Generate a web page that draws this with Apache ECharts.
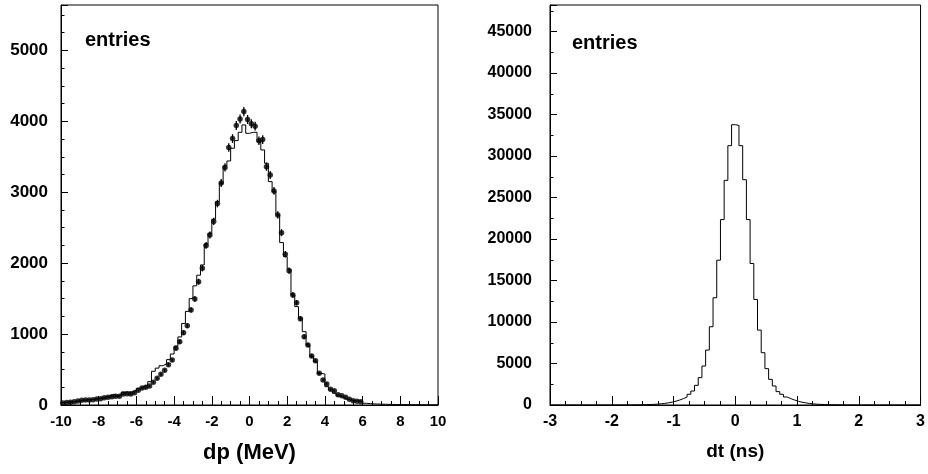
<!DOCTYPE html>
<html><head><meta charset="utf-8">
<script src="https://cdn.jsdelivr.net/npm/echarts@6/dist/echarts.min.js"></script>
<style>html,body{margin:0;padding:0;background:#fff}#c{width:928px;height:474px}</style>
</head><body><div id="c"></div>
<script>
// ---- left panel: dp (MeV), 100 bins of 0.2 from -10 to 10 ----
const dpBinMin = -10, dpBinWidth = 0.2;
const dpAxisMin = -10, dpAxisMax = 10, dpAxisStep = 2;
const dpYMax = 5640, dpYStep = 1000;
const dpHist = [
  35, 40, 45, 50, 58, 64, 70, 75, 82, 90,
  98, 105, 125, 151, 130, 140, 180, 183, 183, 205,
  235, 258, 280, 329, 475, 520, 554, 580, 640, 719,
  830, 960, 1150, 1320, 1500, 1680, 1830, 1975, 2271, 2421,
  2619, 2868, 3127, 3371, 3441, 3620, 3728, 3845, 3949, 3831,
  3845, 3845, 3714, 3596, 3408, 3150, 3009, 2680, 2290, 2092,
  1914, 1551, 1387, 1222, 1034, 846, 681, 611, 447, 437,
  258, 212, 165, 127, 108, 80, 70, 61, 56, 56,
  24, 20, 16, 14, 12, 10, 9, 8, 7, 6,
  6, 5, 5, 4, 4, 3, 3, 3, 2, 2
];
const dpPoints = [
  28, 35, 38, 47, 56, 66, 70, 72, 75, 85,
  89, 103, 108, 118, 122, 125, 155, 160, 155, 174,
  207, 240, 249, 268, 320, 376, 433, 489, 569, 635,
  800, 893, 1020, 1118, 1340, 1495, 1739, 1928, 2250, 2398,
  2588, 2840, 3129, 3350, 3632, 3757, 3940, 4032, 4137, 4025,
  3965, 3932, 3726, 3742, 3361, 3244, 3018, 2680, 2430, 2125,
  1894, 1551, 1443, 1217, 963, 846, 691, 625, 447, 353,
  296, 221, 202, 145, 131, 109, 80, 61, 52, 47,
  null, null, null, null, null, null, null, null, null, null,
  null, null, null, null, null, null, null, null, null, null
];
// ---- right panel: dt (ns), 100 bins of 0.06 from -3 to 3 ----
const dtBinMin = -3, dtBinWidth = 0.06;
const dtAxisMin = -3, dtAxisMax = 3, dtAxisStep = 1;
const dtYMax = 48200, dtYStep = 5000;
const dtHist = [
  0, 0, 0, 0, 0, 0, 0, 0, 0, 1,
  1, 1, 2, 2, 3, 3, 4, 5, 6, 8,
  10, 12, 15, 20, 28, 40, 55, 75, 105, 145,
  195, 260, 350, 460, 600, 770, 965, 1290, 1685, 2370,
  3295, 4695, 6620, 9430, 12920, 17450, 22340, 27070, 31250, 33775,
  33690, 31250, 27150, 22340, 17050, 12720, 9025, 6300, 4380, 3090,
  2290, 1610, 1290, 965, 770, 600, 450, 340, 260, 190,
  140, 100, 75, 55, 40, 30, 22, 16, 12, 9,
  7, 5, 4, 3, 3, 2, 2, 1, 1, 1,
  0, 0, 0, 0, 0, 0, 0, 0, 0, 0
];
const yTitle = 'entries';
const dpTitle = 'dp (MeV)';
const dtTitle = 'dt (ns)';

function stepData(min, w, vals) {
  const d = vals.map((v, i) => [min + i * w, v]);
  d.push([min + vals.length * w, vals[vals.length - 1]]);
  return d;
}
function pointData(min, w, vals) {
  const d = [];
  vals.forEach((v, i) => { if (v != null) d.push([min + (i + 0.5) * w, v, Math.sqrt(v)]); });
  return d;
}

const FONT = 'Liberation Sans, Arial, Helvetica, sans-serif';
function lab(size) { return { color: '#000', fontWeight: 'bold', fontSize: size, fontFamily: FONT, formatter: v => String(v) }; }

function xAxis(grid, min, max, step, name, nameSize, labSize) {
  return {
    type: 'value', gridIndex: grid, min: min, max: max, interval: step,
    axisLine: { show: true, onZero: false, lineStyle: { color: '#000', width: 1 } },
    axisTick: { show: true, inside: true, length: 9, lineStyle: { color: '#000' } },
    minorTick: { show: true, splitNumber: 4, length: 4, lineStyle: { color: '#000' } },
    splitLine: { show: false },
    axisLabel: Object.assign({ margin: 9 }, lab(labSize)),
    name: name, nameLocation: 'middle', nameGap: 37,
    nameTextStyle: { color: '#000', fontWeight: 'bold', fontSize: nameSize, fontFamily: FONT }
  };
}
function yAxis(grid, max, step, minorSplit, margin, labSize) {
  return {
    type: 'value', gridIndex: grid, min: 0, max: max, interval: step,
    axisLine: { show: true, onZero: false, lineStyle: { color: '#000', width: 1 } },
    axisTick: { show: true, inside: true, length: 7, lineStyle: { color: '#000' } },
    minorTick: { show: true, splitNumber: minorSplit, length: 3.5, lineStyle: { color: '#000' } },
    splitLine: { show: false },
    axisLabel: Object.assign({ margin: margin, showMaxLabel: false }, lab(labSize))
  };
}

const errRender = function (params, api) {
  const x = api.value(0), y = api.value(1), e = api.value(2);
  const p1 = api.coord([x, y - e]), p2 = api.coord([x, y + e]);
  return { type: 'line', shape: { x1: p1[0], y1: p1[1], x2: p2[0], y2: p2[1] },
           style: { stroke: '#000', lineWidth: 1.3 } };
};

const chart = echarts.init(document.getElementById('c'), null, { renderer: 'canvas' });
chart.setOption({
  animation: false,
  backgroundColor: '#fff',
  grid: [
    { left: 61, top: 5, width: 377, height: 400, show: true, borderColor: '#000', borderWidth: 1, containLabel: false },
    { left: 550, top: 5, width: 377, height: 400, show: true, borderColor: '#000', borderWidth: 1, containLabel: false }
  ],
  xAxis: [
    xAxis(0, dpAxisMin, dpAxisMax, dpAxisStep, dpTitle, 22, 15),
    xAxis(1, dtAxisMin, dtAxisMax, dtAxisStep, dtTitle, 19, 16)
  ],
  yAxis: [
    yAxis(0, dpYMax, dpYStep, 4, 13, 17),
    yAxis(1, dtYMax, dtYStep, 2, 18, 16)
  ],
  graphic: [
    { type: 'text', left: 85, top: 30, style: { text: yTitle, fill: '#000', font: 'bold 20px ' + FONT } },
    { type: 'text', left: 572, top: 33, style: { text: yTitle, fill: '#000', font: 'bold 20px ' + FONT } }
  ],
  series: [
    { type: 'line', xAxisIndex: 0, yAxisIndex: 0, step: 'end', showSymbol: false,
      data: stepData(dpBinMin, dpBinWidth, dpHist), lineStyle: { color: '#000', width: 1 } },
    { type: 'custom', xAxisIndex: 0, yAxisIndex: 0, renderItem: errRender,
      data: pointData(dpBinMin, dpBinWidth, dpPoints), encode: { x: 0, y: 1 } },
    { type: 'scatter', xAxisIndex: 0, yAxisIndex: 0, symbol: 'circle', symbolSize: 5.5,
      itemStyle: { color: '#000' }, data: pointData(dpBinMin, dpBinWidth, dpPoints) },
    { type: 'line', xAxisIndex: 1, yAxisIndex: 1, step: 'end', showSymbol: false,
      data: stepData(dtBinMin, dtBinWidth, dtHist), lineStyle: { color: '#000', width: 1 } }
  ]
});
</script></body></html>
